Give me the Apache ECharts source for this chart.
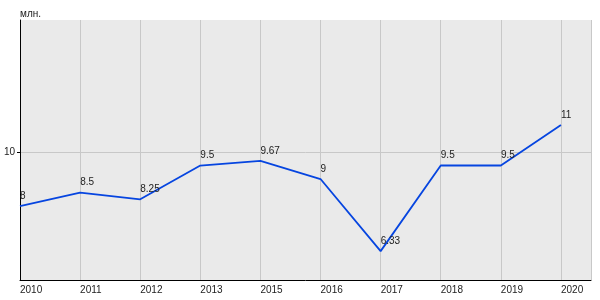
<!DOCTYPE html>
<html><head><meta charset="utf-8">
<script src="https://cdn.jsdelivr.net/npm/echarts@6/dist/echarts.min.js"></script>
<style>html,body{margin:0;padding:0;background:#fff}#c{width:600px;height:300px}</style>
</head><body><div id="c"></div>
<script>
const years = ['2010','2011','2012','2013','2015','2016','2017','2018','2019','2020'];
const values = [8, 8.5, 8.25, 9.5, 9.67, 9, 6.33, 9.5, 9.5, 11];
const yTicks = [10];
const unit = 'млн.';

const chart = echarts.init(document.getElementById('c'), null, {renderer:'canvas'});
const font = 'Liberation Sans, Arial, sans-serif';
chart.setOption({
  animation:false,
  textStyle:{fontFamily:font},
  grid:{left:20, right:9, top:20, bottom:20, show:true, backgroundColor:'#eaeaea', borderWidth:0,
        containLabel:false, outerBoundsMode:'none'},
  xAxis:{
    type:'value', min:0, max:years.length-0.5, interval:1,
    axisLine:{show:true, lineStyle:{color:'#000', width:1}},
    axisTick:{show:false},
    splitLine:{show:true, lineStyle:{color:'#c8c8c8', width:1}},
    axisLabel:{color:'#222', fontSize:10, fontFamily:font, align:'left', margin:5,
      formatter:v => Number.isInteger(v) && years[v] ? years[v] : ''}
  },
  yAxis:{
    type:'value', min:5.26, max:14.89,
    name:unit, nameLocation:'end', nameGap:1,
    nameTextStyle:{color:'#222', fontSize:10, fontFamily:font, align:'left'},
    axisLine:{show:true, lineStyle:{color:'#000', width:1}},
    axisTick:{show:true, length:3, lineStyle:{color:'#000'}, customValues:yTicks},
    splitLine:{show:true, lineStyle:{color:'#c8c8c8', width:1}},
    axisLabel:{color:'#222', fontSize:10, fontFamily:font, margin:5, padding:[0,0,7,0], customValues:yTicks}
  },
  series:[{
    type:'line',
    data:values.map((v,i)=>[i,v]),
    symbol:'circle', symbolSize:0.1,
    itemStyle:{color:'#0645e0'},
    lineStyle:{color:'#0645e0', width:1.8},
    label:{show:true, position:'right', distance:0, offset:[0,-10], color:'#222', fontSize:10, fontFamily:font,
      formatter:p => String(values[p.dataIndex])}
  }]
});
</script></body></html>
